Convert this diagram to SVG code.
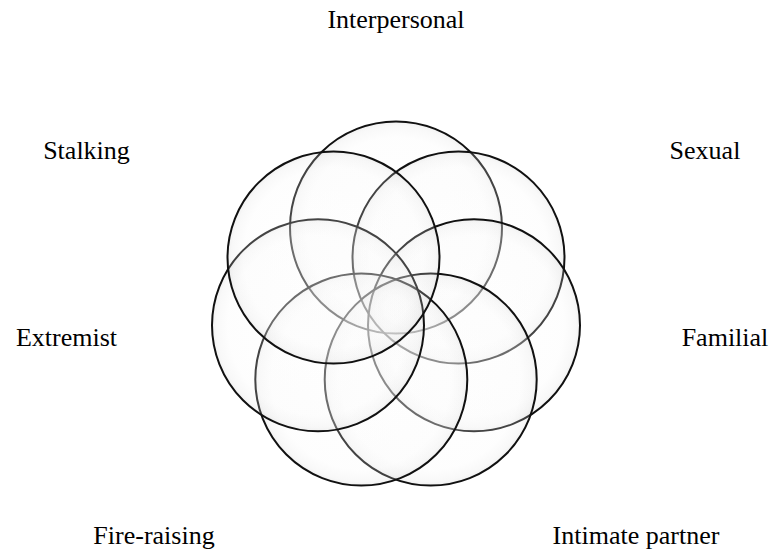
<svg xmlns="http://www.w3.org/2000/svg" width="772" height="553" viewBox="0 0 772 553">
  <defs>
    <radialGradient id="g" cx="0.5" cy="0.5" r="0.5">
      <stop offset="0" stop-color="#ffffff"/>
      <stop offset="0.85" stop-color="#f8f8f8"/>
      <stop offset="0.96" stop-color="#e0e0e0"/>
      <stop offset="1" stop-color="#c0c0c0"/>
    </radialGradient>
  </defs>
  <style>
    .c { fill: url(#g); fill-opacity: 0.22; stroke: #111; stroke-width: 2; }
    .t { font-family: "Liberation Serif", "Times New Roman", serif; font-size: 26px; fill: #000; text-anchor: middle; }
  </style>
  <rect width="772" height="553" fill="#fff"/>
  <g id="circles">
    <g id="c-interpersonal"><circle class="c" cx="396" cy="227.5" r="106"/></g>
    <g id="c-sexual"><circle class="c" cx="458.5" cy="257.6" r="106"/></g>
    <g id="c-familial"><circle class="c" cx="474" cy="325.3" r="106"/></g>
    <g id="c-intimate"><circle class="c" cx="430.7" cy="379.6" r="106"/></g>
    <g id="c-fire"><circle class="c" cx="361.3" cy="379.6" r="106"/></g>
    <g id="c-extremist"><circle class="c" cx="318" cy="325.3" r="106"/></g>
    <g id="c-stalking"><circle class="c" cx="333.5" cy="257.6" r="106"/></g>
  </g>
  <g id="connectors"/>
  <g id="labels">
    <g id="l-interpersonal"><text class="t" x="396" y="28">Interpersonal</text></g>
    <g id="l-stalking"><text class="t" x="86.5" y="159">Stalking</text></g>
    <g id="l-sexual"><text class="t" x="705" y="159">Sexual</text></g>
    <g id="l-extremist"><text class="t" x="66.5" y="346">Extremist</text></g>
    <g id="l-familial"><text class="t" x="725" y="346">Familial</text></g>
    <g id="l-fire"><text class="t" x="154" y="544">Fire-raising</text></g>
    <g id="l-intimate"><text class="t" x="636" y="544">Intimate partner</text></g>
  </g>
</svg>
